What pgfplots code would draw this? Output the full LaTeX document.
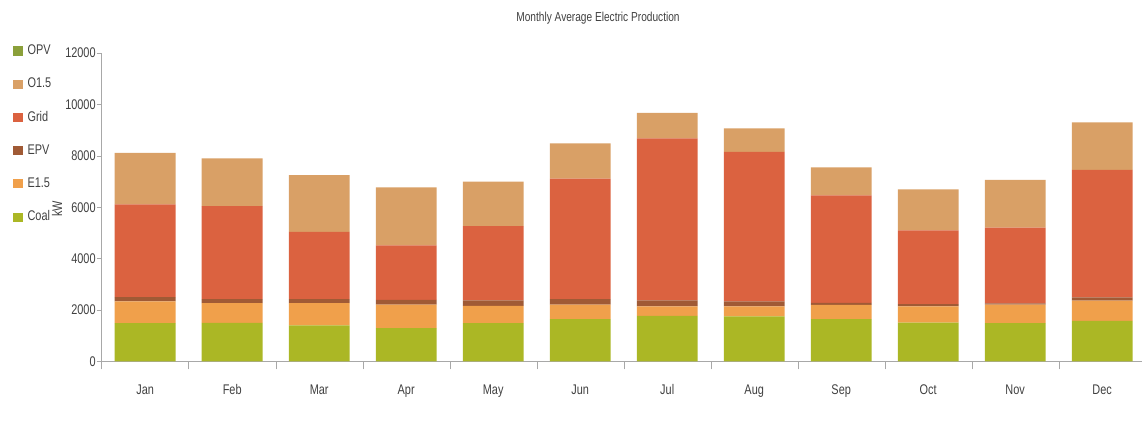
\documentclass[border=0pt]{standalone}
\usepackage{pgfplots}
\pgfplotsset{compat=1.18}
\usepackage{fontspec}
\setmainfont{Liberation Sans}[FakeStretch=0.78]
\definecolor{cCoal}{HTML}{ABB725}
\definecolor{cE}{HTML}{F0A04B}
\definecolor{cEPV}{HTML}{A05A35}
\definecolor{cGrid}{HTML}{DB6240}
\definecolor{cO}{HTML}{D9A066}
\definecolor{cOPV}{HTML}{8BA03A}
\definecolor{txt}{HTML}{404040}
\definecolor{axc}{HTML}{A8A8A8}
\begin{document}
\begin{tikzpicture}
\begin{axis}[
  at={(50.85pt,29.75pt)}, anchor=south west,
  scale only axis, width=522pt, height=154.25pt,
  ybar stacked, bar width=0.7,
  xmin=-0.5, xmax=11.5, ymin=0, ymax=12000,
  xtick={0,...,11},
  xticklabels={Jan,Feb,Mar,Apr,May,Jun,Jul,Aug,Sep,Oct,Nov,Dec},
  minor xtick={-0.5,0.5,...,11.5},
  major x tick style={draw=none},
  minor x tick style={draw=axc},
  ytick={0,2000,...,12000},
  scaled y ticks=false,
  tick align=outside, major tick length=2.5pt, minor tick length=4pt,
  y tick style={draw=axc},
  axis x line*=bottom, axis y line*=left,
  axis line style={draw=axc, line width=0.6pt},
  tick label style={font=\fontsize{7}{8}\selectfont, text=txt},
  xticklabel style={yshift=-5.5pt},
  yticklabel style={xshift=3pt},
  /pgf/number format/1000 sep={},
  /pgf/number format/assume math mode=true,
  reverse legend,
  legend style={at={(-0.085,1.035)}, anchor=north west, draw=none, fill=none,
    font=\fontsize{7}{8}\selectfont, text=txt, row sep=8.2pt, column sep=1.5pt,
    inner sep=0pt, nodes={inner sep=1pt}},
  legend cell align=left,
]
\addplot[fill=cCoal, draw=none, legend image code/.code={\fill[cCoal] (0pt,-2.3pt) rectangle (4.6pt,2.3pt);}] coordinates {
 (0,1490) (1,1500) (2,1400) (3,1296) (4,1490) (5,1648) (6,1777) (7,1750) (8,1648) (9,1516) (10,1490) (11,1582)};
\addplot[fill=cE, draw=none, legend image code/.code={\fill[cE] (0pt,-2.3pt) rectangle (4.6pt,2.3pt);}] coordinates {
 (0,846) (1,773) (2,873) (3,911) (4,678) (5,559) (6,364) (7,390) (8,552) (9,625) (10,717) (11,781)};
\addplot[fill=cEPV, draw=none, legend image code/.code={\fill[cEPV] (0pt,-2.3pt) rectangle (4.6pt,2.3pt);}] coordinates {
 (0,172) (1,157) (2,157) (3,193) (4,208) (5,223) (6,235) (7,196) (8,80) (9,89) (10,50) (11,129)};
\addplot[fill=cGrid, draw=none, legend image code/.code={\fill[cGrid] (0pt,-2.3pt) rectangle (4.6pt,2.3pt);}] coordinates {
 (0,3605) (1,3617) (2,2616) (3,2112) (4,2890) (5,4687) (6,6304) (7,5820) (8,4180) (9,2868) (10,2946) (11,4961)};
\addplot[fill=cO, draw=none, legend image code/.code={\fill[cO] (0pt,-2.3pt) rectangle (4.6pt,2.3pt);}] coordinates {
 (0,2004) (1,1851) (2,2200) (3,2265) (4,1734) (5,1367) (6,988) (7,914) (8,1087) (9,1594) (10,1860) (11,1852)};
\addplot[fill=cOPV, draw=none, legend image code/.code={\fill[cOPV] (0pt,-2.3pt) rectangle (4.6pt,2.3pt);}] coordinates {
 (0,0) (1,0) (2,0) (3,0) (4,0) (5,0) (6,0) (7,0) (8,0) (9,0) (10,0) (11,0)};
\legend{Coal,E1.5,EPV,Grid,O1.5,OPV}
\end{axis}
\node[text=txt, font=\fontsize{6.5}{7}\selectfont] at (299pt,201.5pt) {Monthly Average Electric Production};
\node[text=txt, font=\fontsize{7}{8}\selectfont, rotate=90] at (28.5pt,106pt) {kW};
\pgfresetboundingbox
\useasboundingbox (0,0) rectangle (571pt,210.5pt);
\end{tikzpicture}
\end{document}
